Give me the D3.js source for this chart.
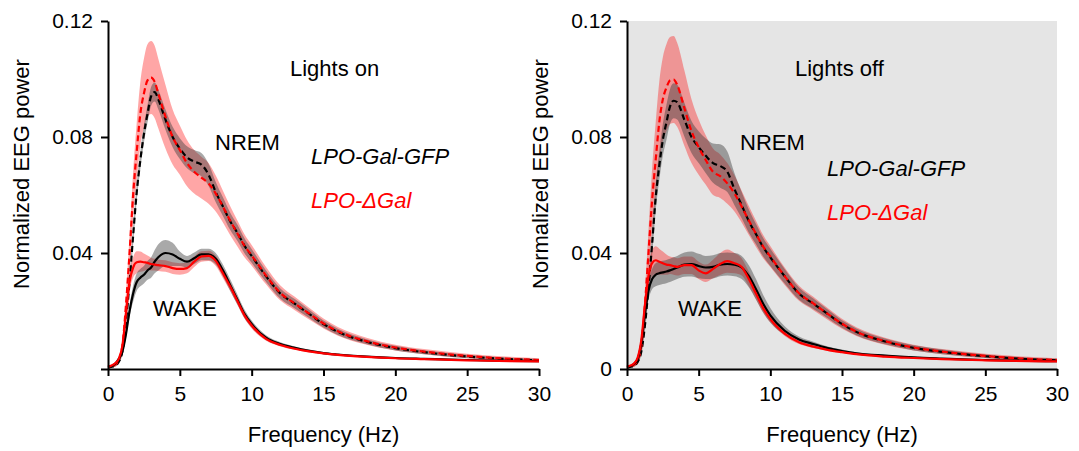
<!DOCTYPE html>
<html>
<head>
<meta charset="utf-8">
<script src="https://cdn.jsdelivr.net/npm/d3@7"></script>
<style>
  body { margin: 0; background: #fff; }
  svg text { font-family: "Liberation Sans", Arial, sans-serif; }
</style>
</head>
<body>
<svg width="1079" height="451"></svg>
<script>
// frequency bins (Hz)
var freq = [0, 0.25, 0.5, 0.75, 1, 1.25, 1.5, 1.75, 2, 2.25, 2.5, 2.75, 3, 3.25, 3.5, 4, 4.5, 5, 5.5, 6,
            6.5, 7, 7.5, 8, 8.5, 9, 9.5, 10, 11, 12, 13, 14, 15, 16, 18, 20, 22, 25, 28, 30];

// Lights on
var onNremGfp = [0.0005, 0.0008, 0.0012, 0.0025, 0.006, 0.016, 0.030, 0.046, 0.061, 0.072, 0.081, 0.088, 0.094, 0.0955, 0.093, 0.086, 0.080, 0.076, 0.073, 0.0715,
                 0.0705, 0.067, 0.061, 0.056, 0.051, 0.047, 0.0425, 0.039, 0.032, 0.026, 0.0225, 0.019, 0.0155, 0.0128, 0.0094, 0.0072, 0.0058, 0.0043, 0.0034, 0.003];
var onNremGfpSem = [0.0003, 0.0003, 0.0004, 0.0006, 0.001, 0.002, 0.0025, 0.003, 0.003, 0.003, 0.003, 0.003, 0.0032, 0.0033, 0.0034, 0.0035, 0.0035, 0.0036, 0.0038, 0.004,
                    0.004, 0.0038, 0.0035, 0.0032, 0.003, 0.0028, 0.0026, 0.0024, 0.002, 0.0018, 0.0016, 0.0014, 0.0012, 0.0011, 0.0009, 0.0008, 0.0007, 0.0006, 0.0005, 0.0005];
var onNremDgal = [0.0005, 0.0009, 0.0015, 0.003, 0.008, 0.022, 0.040, 0.060, 0.075, 0.088, 0.095, 0.0995, 0.1005, 0.099, 0.095, 0.087, 0.080, 0.0755, 0.071, 0.068,
                  0.066, 0.064, 0.0605, 0.056, 0.0512, 0.0468, 0.0425, 0.0392, 0.0322, 0.0262, 0.0226, 0.0191, 0.0157, 0.013, 0.0096, 0.0074, 0.006, 0.0045, 0.0035, 0.0031];
var onNremDgalSem = [0.0003, 0.0004, 0.0006, 0.001, 0.002, 0.004, 0.006, 0.008, 0.01, 0.011, 0.012, 0.0125, 0.0126, 0.0125, 0.012, 0.011, 0.0095, 0.0085, 0.008, 0.0075,
                     0.0072, 0.007, 0.0062, 0.0055, 0.005, 0.0045, 0.004, 0.0036, 0.003, 0.0026, 0.0023, 0.002, 0.0017, 0.0015, 0.0012, 0.001, 0.0009, 0.0008, 0.0007, 0.0006];
var onWakeGfp = [0.0008, 0.001, 0.0018, 0.0035, 0.006, 0.012, 0.020, 0.026, 0.030, 0.0315, 0.0325, 0.034, 0.035, 0.037, 0.0385, 0.040, 0.0395, 0.038, 0.037, 0.0382,
                 0.0395, 0.0395, 0.038, 0.034, 0.029, 0.024, 0.019, 0.0155, 0.0108, 0.0086, 0.0073, 0.0063, 0.0055, 0.005, 0.0043, 0.0038, 0.0035, 0.0031, 0.0028, 0.0027];
var onWakeGfpSem = [0.0002, 0.0002, 0.0003, 0.0005, 0.001, 0.0015, 0.002, 0.0028, 0.003, 0.003, 0.003, 0.0032, 0.0035, 0.004, 0.0045, 0.0045, 0.004, 0.0025, 0.002, 0.002,
                    0.002, 0.002, 0.002, 0.002, 0.002, 0.0018, 0.0015, 0.0012, 0.0008, 0.0006, 0.0005, 0.0004, 0.0004, 0.0003, 0.0003, 0.0003, 0.0002, 0.0002, 0.0002, 0.0002];
var onWakeDgal = [0.0008, 0.0012, 0.002, 0.0035, 0.008, 0.019, 0.030, 0.035, 0.0368, 0.037, 0.0368, 0.0366, 0.0362, 0.036, 0.0358, 0.0355, 0.0348, 0.0345, 0.0348, 0.037,
                  0.0388, 0.039, 0.0373, 0.033, 0.0285, 0.0235, 0.0185, 0.015, 0.0104, 0.0083, 0.007, 0.0061, 0.0054, 0.0049, 0.0042, 0.0037, 0.0034, 0.003, 0.0027, 0.0026];
var onWakeDgalSem = [0.0002, 0.0002, 0.0003, 0.0005, 0.001, 0.002, 0.003, 0.0035, 0.0038, 0.0035, 0.003, 0.0025, 0.0022, 0.002, 0.002, 0.002, 0.002, 0.002, 0.0018, 0.0018,
                     0.0018, 0.0018, 0.0018, 0.0017, 0.0015, 0.0013, 0.0011, 0.001, 0.0007, 0.0005, 0.0004, 0.0004, 0.0003, 0.0003, 0.0003, 0.0002, 0.0002, 0.0002, 0.0002, 0.0002];

// Lights off
var offNremGfp = [0.0005, 0.0008, 0.0012, 0.0025, 0.006, 0.015, 0.028, 0.043, 0.059, 0.070, 0.079, 0.085, 0.0905, 0.0925, 0.092, 0.086, 0.080, 0.0765, 0.0735, 0.071,
                  0.070, 0.068, 0.062, 0.0565, 0.051, 0.0465, 0.042, 0.0385, 0.032, 0.026, 0.0225, 0.019, 0.0155, 0.0128, 0.0095, 0.0073, 0.0059, 0.0044, 0.0034, 0.003];
var offNremGfpSem = [0.0003, 0.0003, 0.0004, 0.0006, 0.001, 0.002, 0.003, 0.004, 0.0045, 0.005, 0.0055, 0.006, 0.006, 0.006, 0.006, 0.0058, 0.0055, 0.0055, 0.006, 0.0068,
                     0.0075, 0.007, 0.0055, 0.0045, 0.004, 0.0035, 0.0032, 0.003, 0.0025, 0.0021, 0.0018, 0.0015, 0.0013, 0.0012, 0.001, 0.0009, 0.0008, 0.0006, 0.0005, 0.0005];
var offNremDgal = [0.0005, 0.0009, 0.0015, 0.003, 0.008, 0.022, 0.040, 0.058, 0.072, 0.085, 0.093, 0.097, 0.0995, 0.0998, 0.098, 0.090, 0.082, 0.0765, 0.072, 0.068,
                   0.0665, 0.064, 0.0605, 0.056, 0.0512, 0.0466, 0.0422, 0.0388, 0.032, 0.0261, 0.0226, 0.019, 0.0156, 0.0129, 0.0096, 0.0074, 0.006, 0.0045, 0.0035, 0.0031];
var offNremDgalSem = [0.0003, 0.0004, 0.0006, 0.001, 0.002, 0.005, 0.008, 0.011, 0.013, 0.014, 0.0145, 0.015, 0.015, 0.015, 0.0145, 0.013, 0.011, 0.0095, 0.0085, 0.008,
                      0.0075, 0.007, 0.0062, 0.0055, 0.005, 0.0045, 0.004, 0.0036, 0.003, 0.0026, 0.0023, 0.002, 0.0017, 0.0015, 0.0012, 0.001, 0.0009, 0.0008, 0.0007, 0.0006];
var offWakeGfp = [0.0008, 0.001, 0.0018, 0.0035, 0.009, 0.019, 0.027, 0.031, 0.0325, 0.033, 0.0333, 0.0336, 0.034, 0.0345, 0.035, 0.036, 0.0362, 0.0355, 0.035, 0.0352,
                  0.036, 0.0362, 0.036, 0.035, 0.032, 0.0275, 0.0225, 0.0185, 0.0132, 0.0102, 0.0086, 0.0072, 0.0062, 0.0054, 0.0046, 0.004, 0.0036, 0.0031, 0.0028, 0.0027];
var offWakeGfpSem = [0.0002, 0.0002, 0.0003, 0.0005, 0.0012, 0.002, 0.003, 0.0035, 0.004, 0.004, 0.004, 0.004, 0.004, 0.004, 0.004, 0.0042, 0.0043, 0.0042, 0.004, 0.004,
                     0.004, 0.004, 0.004, 0.004, 0.0038, 0.0035, 0.003, 0.0025, 0.0015, 0.001, 0.0008, 0.0006, 0.0005, 0.0004, 0.0003, 0.0003, 0.0002, 0.0002, 0.0002, 0.0002];
var offWakeDgal = [0.0008, 0.0012, 0.002, 0.004, 0.010, 0.022, 0.032, 0.0365, 0.0375, 0.037, 0.0365, 0.036, 0.0358, 0.0355, 0.0352, 0.0358, 0.0358, 0.034, 0.033, 0.0345,
                   0.0362, 0.0372, 0.0365, 0.0352, 0.031, 0.026, 0.021, 0.0172, 0.0122, 0.0092, 0.0077, 0.0066, 0.0058, 0.0051, 0.0043, 0.0038, 0.0034, 0.003, 0.0027, 0.0026];
var offWakeDgalSem = [0.0002, 0.0002, 0.0003, 0.0005, 0.0012, 0.002, 0.0035, 0.0045, 0.0048, 0.0045, 0.004, 0.0035, 0.003, 0.003, 0.003, 0.003, 0.003, 0.003, 0.003, 0.0032,
                      0.0038, 0.004, 0.0035, 0.003, 0.0025, 0.002, 0.0016, 0.0012, 0.0008, 0.0006, 0.0005, 0.0004, 0.0003, 0.0003, 0.0003, 0.0002, 0.0002, 0.0002, 0.0002, 0.0002];

var yTicks = [0, 0.04, 0.08, 0.12];
var xTicks = [0, 5, 10, 15, 20, 25, 30];

var svg = d3.select("svg");

var panels = [
  {left: 108, right: 539, title: "Lights on", grey: false, zeroLabel: false,
   titlePos: [290, 76], nremPos: [215, 150], wakePos: [153, 316], legPos: [311, 164, 208],
   nrem: [onNremGfp, onNremGfpSem, onNremDgal, onNremDgalSem],
   wake: [onWakeGfp, onWakeGfpSem, onWakeDgal, onWakeDgalSem]},
  {left: 627, right: 1057, title: "Lights off", grey: true, zeroLabel: true,
   titlePos: [795, 76], nremPos: [740, 150], wakePos: [678, 316], legPos: [827, 176, 220],
   nrem: [offNremGfp, offNremGfpSem, offNremDgal, offNremDgalSem],
   wake: [offWakeGfp, offWakeGfpSem, offWakeDgal, offWakeDgalSem]}
];

panels.forEach(function(p) {
  var x = d3.scaleLinear().domain([0, 30]).range([p.left, p.right]);
  var y = d3.scaleLinear().domain([0, 0.12]).range([369, 21]);
  var g = svg.append("g");

  if (p.grey) {
    g.append("rect")
      .attr("x", x(0)).attr("y", y(0.12))
      .attr("width", x(30) - x(0)).attr("height", y(0) - y(0.12))
      .attr("fill", "#e5e5e5");
  }

  var band = function(mean, sem) {
    return d3.area()
      .x(function(d, i) { return x(freq[i]); })
      .y0(function(d, i) { return y(Math.max(0, mean[i] - sem[i])); })
      .y1(function(d, i) { return y(mean[i] + sem[i]); })
      .curve(d3.curveMonotoneX)(freq);
  };
  var line = function(mean) {
    return d3.line()
      .x(function(d, i) { return x(freq[i]); })
      .y(function(d, i) { return y(mean[i]); })
      .curve(d3.curveMonotoneX)(freq);
  };

  // shaded sem bands: red first, grey over
  [p.nrem, p.wake].forEach(function(s) {
    g.append("path").attr("d", band(s[2], s[3])).attr("fill", "rgba(255,0,0,0.35)");
    g.append("path").attr("d", band(s[0], s[1])).attr("fill", "rgba(60,60,60,0.44)");
  });

  // mean lines
  g.append("path").attr("d", line(p.nrem[0])).attr("fill", "none")
    .attr("stroke", "#000").attr("stroke-width", 2.2).attr("stroke-dasharray", "6,3.5");
  g.append("path").attr("d", line(p.nrem[2])).attr("fill", "none")
    .attr("stroke", "#ff0000").attr("stroke-width", 2.2).attr("stroke-dasharray", "6,3.5")
    .attr("stroke-dashoffset", 4);
  g.append("path").attr("d", line(p.wake[0])).attr("fill", "none")
    .attr("stroke", "#000").attr("stroke-width", 2.2);
  g.append("path").attr("d", line(p.wake[2])).attr("fill", "none")
    .attr("stroke", "#ff0000").attr("stroke-width", 2.2);

  // axes
  var yAxis = d3.axisLeft(y).tickValues(yTicks).tickSize(7).tickSizeOuter(0).tickPadding(8)
    .tickFormat(function(d) { return d === 0 ? (p.zeroLabel ? "0" : "") : d3.format(".2f")(d); });
  var ya = g.append("g").attr("transform", "translate(" + p.left + ",0)").call(yAxis);
  var xAxis = d3.axisBottom(x).tickValues(xTicks).tickSize(7).tickSizeOuter(0).tickPadding(10);
  var xa = g.append("g").attr("transform", "translate(0,369)").call(xAxis);
  [ya, xa].forEach(function(a) {
    a.selectAll("path, line").attr("stroke", "#000").attr("stroke-width", 2);
    a.selectAll("text").attr("font-size", 21).attr("fill", "#000")
      .style("font-family", "'Liberation Sans', Arial, sans-serif");
  });

  // axis titles
  g.append("text")
    .attr("transform", "translate(" + (p.left - 79) + ",174) rotate(-90)")
    .attr("text-anchor", "middle").attr("font-size", 22).text("Normalized EEG power");
  g.append("text")
    .attr("x", (p.left + p.right) / 2).attr("y", 442)
    .attr("text-anchor", "middle").attr("font-size", 22).text("Frequency (Hz)");

  // annotations
  g.append("text").attr("x", p.titlePos[0]).attr("y", p.titlePos[1]).attr("font-size", 22).text(p.title);
  g.append("text").attr("x", p.nremPos[0]).attr("y", p.nremPos[1]).attr("font-size", 22).text("NREM");
  g.append("text").attr("x", p.wakePos[0]).attr("y", p.wakePos[1]).attr("font-size", 22).text("WAKE");
  g.append("text").attr("x", p.legPos[0]).attr("y", p.legPos[1]).attr("font-size", 22)
    .attr("font-style", "italic").text("LPO-Gal-GFP");
  g.append("text").attr("x", p.legPos[0]).attr("y", p.legPos[2]).attr("font-size", 22)
    .attr("font-style", "italic").attr("fill", "#ff0000").text("LPO-ΔGal");
});
</script>
</body>
</html>
